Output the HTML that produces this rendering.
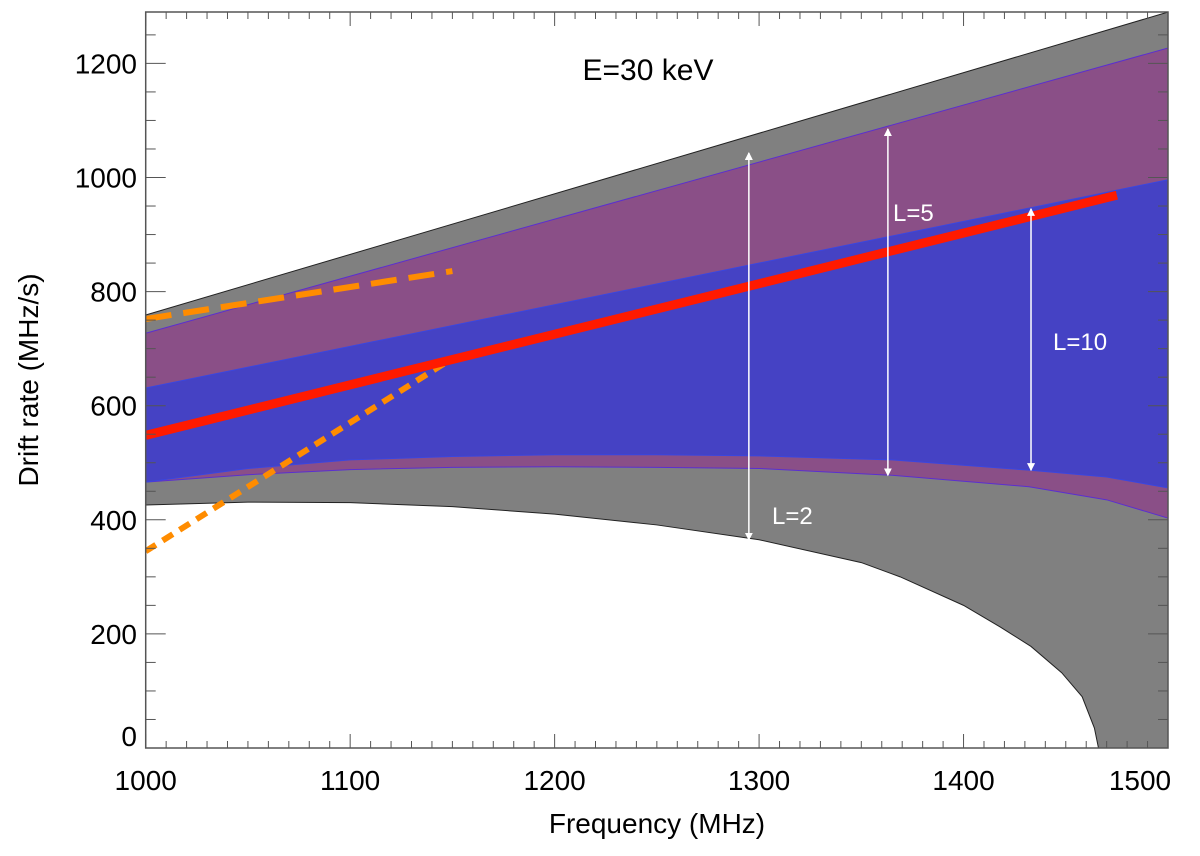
<!DOCTYPE html>
<html><head><meta charset="utf-8"><style>
body{margin:0;background:#fff}
svg text{font-family:"Liberation Sans",sans-serif}
</style></head><body>
<svg id="c" width="1200" height="851"></svg>
<script>
const xTicks=[1000,1100,1200,1300,1400,1500];
const yTicks=[0,200,400,600,800,1000,1200];
const grayTopF=[1000,1500];const grayTopV=[759,1290];
const grayBotF=[1000,1050,1100,1150,1200,1250,1300,1350,1369,1400,1418,1433,1448,1458,1464,1466];
const grayBotV=[426,431,430,423,410,391,365,325,300,250,212,178,132,90,35,0];
const purpTopF=[1000,1500];const purpTopV=[727,1227];
const purpBotF=[1000,1050,1100,1150,1200,1250,1300,1365,1432,1470,1500];const purpBotV=[466,479,488,492,493,492,490,478,458,435,403];
const blueTopF=[1000,1500];const blueTopV=[631,996];
const blueBotF=[1000,1050,1100,1150,1200,1250,1300,1365,1432,1470,1500];const blueBotV=[466,490,505,511,514,514,512,505,487,475,456];
const redF=[1000,1475];const redV=[548,969];
const dashF=[1000,1150];const dashV=[752,836];
const dotF=[1000,1150];const dotV=[345,683];
const arrowF=[1295,1363,1433];const arrowLo=[365,478,487];const arrowHi=[1043,1085,945];
const NS='http://www.w3.org/2000/svg';const svg=document.getElementById('c');
const X0=145.7,X1=1168,Y0=748,YT=12;
const x=f=>X0+(f-1000)*(X1-X0)/500;
const y=v=>Y0-v*0.5705;
function mk(t,a,p){const e=document.createElementNS(NS,t);for(const k in a)e.setAttribute(k,a[k]);(p||svg).appendChild(e);return e;}
const clip=mk('clipPath',{id:'pc'});mk('rect',{x:X0,y:YT,width:X1-X0,height:Y0-YT},clip);
const g=mk('g',{'clip-path':'url(#pc)'});
function band(tf,tv,bf,bv,fill,stroke,name){
 let pts=tf.map((f,i)=>x(f)+','+y(tv[i]));
 for(let i=bf.length-1;i>=0;i--)pts.push(x(bf[i])+','+y(bv[i]));
 const e=mk('polygon',{points:pts.join(' '),fill:fill,stroke:stroke,'stroke-width':1},g);
 
 
}
{let pts=grayTopF.map((f,i)=>x(f)+','+y(grayTopV[i]));pts.push(x(1500)+','+y(0));
 for(let i=grayBotF.length-1;i>=0;i--)pts.push(x(grayBotF[i])+','+y(grayBotV[i]));
 const e=mk('polygon',{points:pts.join(' '),fill:'#808080',stroke:'#222','stroke-width':1},g);
 
 }
band(purpTopF,purpTopV,purpBotF,purpBotV,'#8a4f87','#5a2fd0','l5-region');
band(blueTopF,blueTopV,blueBotF,blueBotV,'#4542c4','#3a46e0','l10-region');
function line(F,V,attrs,name){const e=mk('polyline',Object.assign({points:F.map((f,i)=>x(f)+','+y(V[i])).join(' '),fill:'none'},attrs),g);
 
 }
line(dashF,dashV,{stroke:'#ff8c00','stroke-width':6,'stroke-dasharray':'26 12'},'orange-dashed-line');
line(dotF,dotV,{stroke:'#ff8c00','stroke-width':6,'stroke-dasharray':'12 8'},'orange-dotted-line');
line(redF,redV,{stroke:'#ff1a00','stroke-width':9},'red-line');
mk('defs',{}).innerHTML='<marker id="ah" markerWidth="8" markerHeight="8" refX="7" refY="4" orient="auto-start-reverse" markerUnits="userSpaceOnUse"><path d="M0,0L8,4L0,8z" fill="#fff"/></marker>';
arrowF.forEach((f,i)=>{const e=mk('line',{x1:x(f),x2:x(f),y1:y(arrowLo[i]),y2:y(arrowHi[i]),stroke:'#fff','stroke-width':1.5,'marker-start':'url(#ah)','marker-end':'url(#ah)'});
 
 });
mk('rect',{x:X0,y:YT,width:X1-X0,height:Y0-YT,fill:'none',stroke:'#555','stroke-width':1.5,});
for(let f=1000;f<=1500;f+=10){const maj=f%100==0,L=maj?14:7;
 mk('line',{x1:x(f),x2:x(f),y1:Y0,y2:Y0-L,stroke:'#555'});mk('line',{x1:x(f),x2:x(f),y1:YT,y2:YT+L,stroke:'#555'});}
for(let v=0;v<=1250;v+=50){const maj=v%200==0,L=maj?20:10;
 mk('line',{x1:X0,x2:X0+L,y1:y(v),y2:y(v),stroke:'#555'});mk('line',{x1:X1,x2:X1-L,y1:y(v),y2:y(v),stroke:'#555'});}
xTicks.forEach((f,i)=>{const t=mk('text',{x:f==1500?x(f)-28:x(f),y:790,'font-size':28,'text-anchor':'middle'});t.textContent=f;
 
 });
yTicks.forEach(v=>{const t=mk('text',{x:137,y:v==0?y(v)-2:y(v)+10,'font-size':28,'text-anchor':'end'});t.textContent=v;
 
 });
</script>
<svg width="1200" height="851" style="position:absolute;left:0;top:0">
<text x="657" y="833" font-size="28" text-anchor="middle" font-family="Liberation Sans">Frequency (MHz)</text>
<text transform="translate(38,380) rotate(-90)" font-size="28" text-anchor="middle" font-family="Liberation Sans">Drift rate (MHz/s)</text>
<text x="648" y="80" font-size="30" text-anchor="middle" font-family="Liberation Sans">E=30 keV</text>
<text x="772" y="524" font-size="24" fill="#fff" font-family="Liberation Sans">L=2</text>
<text x="893" y="221" font-size="24" fill="#fff" font-family="Liberation Sans">L=5</text>
<text x="1053" y="350" font-size="24" fill="#fff" font-family="Liberation Sans">L=10</text>
</svg>
</body></html>
